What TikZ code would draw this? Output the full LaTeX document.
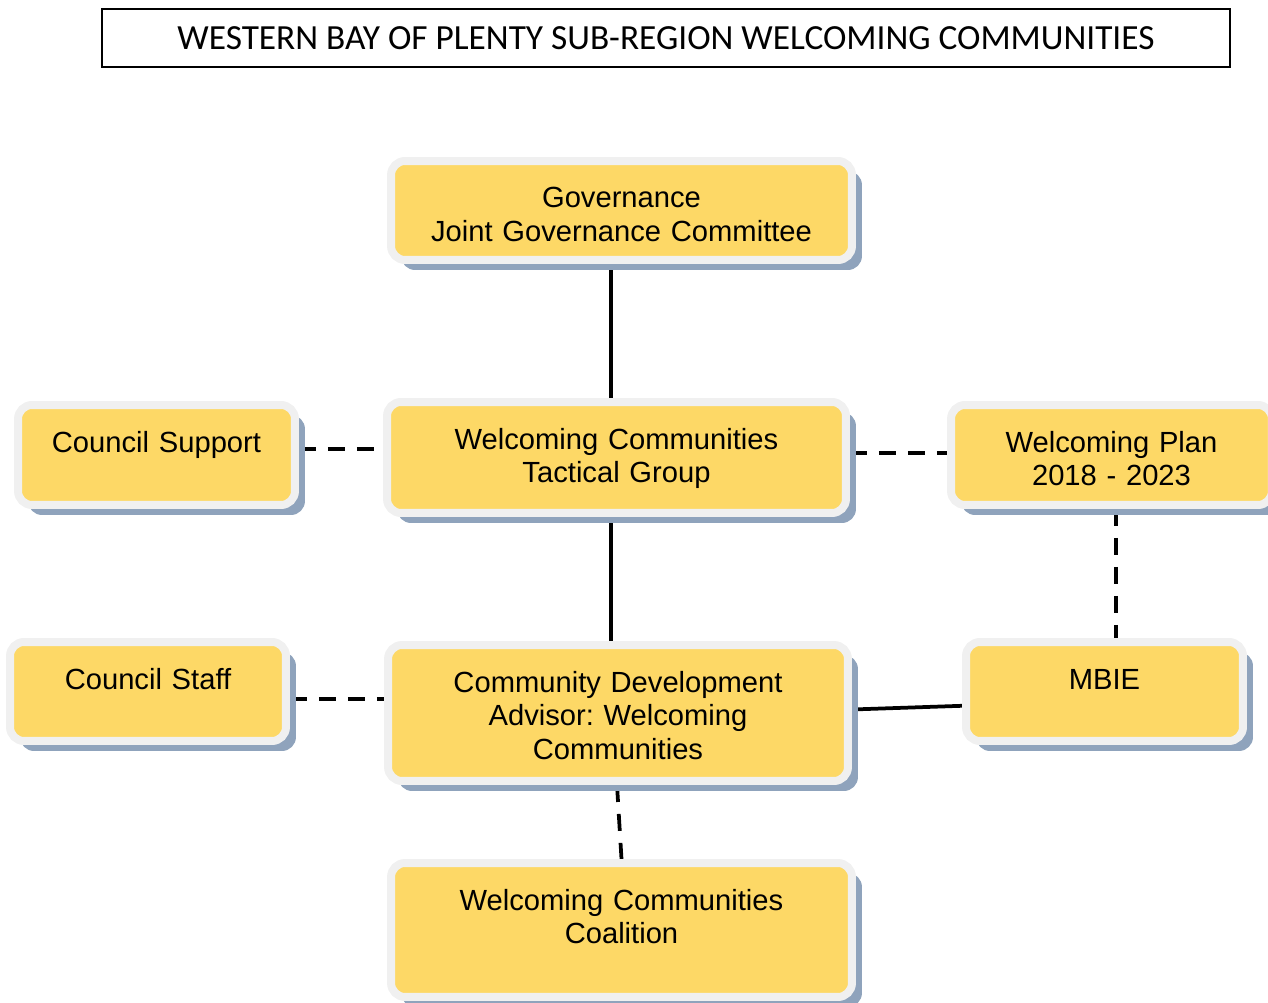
\documentclass[tikz,border=0pt]{standalone}
\usepackage{fontspec}
\setmainfont{Liberation Sans}
\newfontfamily\headfont{Carlito}
\usepackage{tikz}
\usetikzlibrary{shadows,backgrounds,calc}
\definecolor{boxgold}{RGB}{253,216,102}
\definecolor{boxrim}{RGB}{240,240,240}
\definecolor{boxshade}{RGB}{143,163,188}
\frenchspacing

\begin{document}
\begin{tikzpicture}[x=0.02cm,y=-0.02cm,
  unitbox/.style={fill=boxgold,draw=boxrim,line width=0.16cm,rounded corners=0.28cm,
    drop shadow={shadow xshift=0.2cm,shadow yshift=-0.2cm,fill=boxshade,opacity=1},
    inner xsep=0pt,inner ysep=0pt,align=center,text height=0.94cm,
    font=\fontsize{16.6}{19.3}\selectfont},
  solidlink/.style={line width=0.075cm},
  dashlink/.style={line width=0.075cm,dash pattern=on 0.34cm off 0.24cm}]
\useasboundingbox (0,0) rectangle (1268,1003);
\clip (0,0) rectangle (1268,1003);
% Title
\node[draw,line width=0.04cm,minimum width=22.56cm,minimum height=1.16cm,inner sep=0pt,
  font=\headfont\fontsize{20.1}{22}\selectfont] (title) at (666,38)
  {WESTERN BAY OF PLENTY SUB-REGION WELCOMING COMMUNITIES};
% Boxes
\node[unitbox,text width=9.22cm,text depth=1.04cm] (gov) at (621.5,210.5) {Governance\\Joint Governance Committee};
\node[unitbox,text width=9.18cm,text depth=1.28cm] (tact) at (616.5,457.5) {Welcoming Communities\\Tactical Group};
\node[unitbox,text width=5.54cm,text depth=1.06cm] (support) at (156.5,455) {Council Support};
\node[unitbox,text width=6.42cm,text depth=1.06cm] (plan) at (1111.5,455) {Welcoming Plan\\2018 - 2023};
\node[unitbox,text width=9.2cm,text depth=1.78cm] (cda) at (618,713) {Community Development\\Advisor: Welcoming\\Communities};
\node[unitbox,text width=5.52cm,text depth=1.04cm] (staff) at (148,691.5) {Council Staff};
\node[unitbox,text width=5.54cm,text depth=1.04cm] (mbie) at (1104.5,691.5) {MBIE};
\node[unitbox,text width=9.22cm,text depth=1.74cm] (coal) at (621.5,930) {Welcoming Communities\\Coalition};
% Links
\coordinate (spine) at (611,0);
\coordinate (planx) at (1116,0);
\coordinate (rowtop) at (0,449);
\coordinate (rowplan) at (0,453);
\coordinate (rowlow) at (0,699);
\begin{scope}[on background layer]
\draw[solidlink] (gov.south -| spine) -- (tact.north -| spine);
\draw[solidlink] (tact.south -| spine) -- (cda.north -| spine);
\draw[dashlink] (support.east |- rowtop) -- (tact.west |- rowtop);
\draw[dashlink] (tact.east |- rowplan) -- (plan.west |- rowplan);
\draw[dashlink] (plan.south -| planx) -- (mbie.north -| planx);
\draw[dashlink] (staff.east |- rowlow) -- (cda.west |- rowlow);
\draw[solidlink] ($(cda.east)+(0,-3.5)$) -- ($(mbie.west)+(0,14.3)$);
\draw[dashlink] ($(cda.south)+(-1,0)$) -- ($(coal.north)+(0,0)$);
\end{scope}
\end{tikzpicture}
\end{document}
